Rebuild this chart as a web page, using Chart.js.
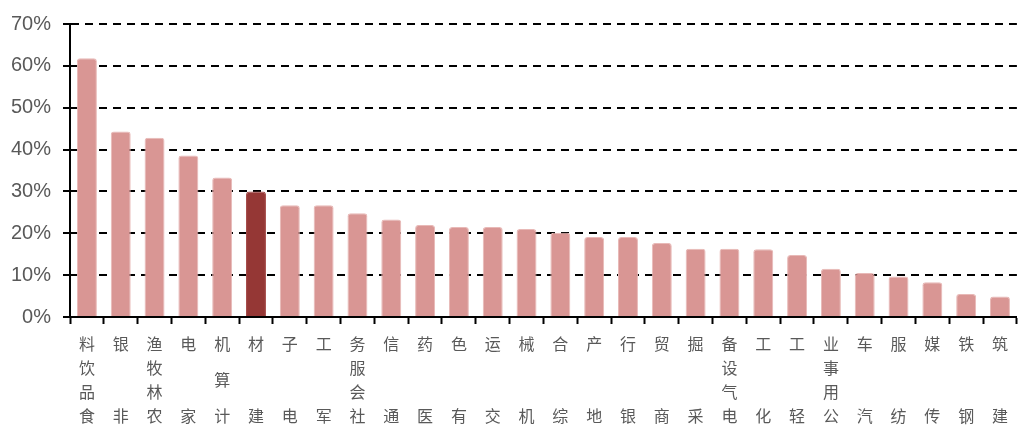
<!DOCTYPE html>
<html>
<head>
<meta charset="utf-8">
<script src="https://cdn.jsdelivr.net/npm/chart.js@4.4.1/dist/chart.umd.min.js"></script>
<style>
  html, body { margin: 0; padding: 0; background: #fff; }
  #c { display: block; }
</style>
</head>
<body>
<canvas id="c" width="1022" height="428"></canvas>
<script>
const categories = ['食品饮料','非银','农林牧渔','家电','计算机','建材','电子','军工','社会服务','通信','医药','有色','交运','机械','综合','地产','银行','商贸','采掘','电气设备','化工','轻工','公用事业','汽车','纺服','传媒','钢铁','建筑'];
const values = [61.8, 44.3, 42.8, 38.6, 33.3, 30.0, 26.7, 26.7, 24.8, 23.3, 22.0, 21.5, 21.5, 21.0, 20.1, 19.1, 19.1, 17.7, 16.3, 16.3, 16.2, 14.8, 11.5, 10.5, 9.7, 8.3, 5.5, 4.9];
const highlightCategory = '建材';
const yTickValues = [0, 10, 20, 30, 40, 50, 60, 70];

const baseColor = '#D99694';
const hiColor = '#953735';

function verticalLabel(text) {
  const chars = Array.from(text).reverse();
  const n = chars.length;
  const step = n >= 4 ? 2 : (n === 3 ? 3 : 6);
  const lines = new Array((n - 1) * step + 1).fill('');
  chars.forEach((ch, i) => { lines[i * step] = ch; });
  return lines;
}

new Chart(document.getElementById('c'), {
  type: 'bar',
  data: {
    labels: categories,
    datasets: [{
      data: values,
      backgroundColor: categories.map(c => c === highlightCategory ? hiColor : baseColor),
      borderColor: categories.map(c => c === highlightCategory ? '#A54A48' : '#E8B9B7'),
      borderWidth: 1,
      borderRadius: { topLeft: 3, topRight: 3, bottomLeft: 0, bottomRight: 0 },
      borderSkipped: 'bottom',
      barPercentage: 0.59,
      categoryPercentage: 1.0
    }]
  },
  options: {
    responsive: false,
    animation: false,
    devicePixelRatio: 1,
    layout: { padding: { top: 23, right: 1, left: 0, bottom: 0 } },
    plugins: { legend: { display: false }, tooltip: { enabled: false }, title: { display: false } },
    scales: {
      x: {
        offset: true,
        grid: {
          display: true,
          offset: true,
          drawOnChartArea: false,
          drawTicks: true,
          tickLength: 7,
          tickWidth: 2,
          tickColor: '#000'
        },
        border: { display: true, color: '#000', width: 2 },
        ticks: {
          autoSkip: false,
          maxRotation: 0,
          minRotation: 0,
          padding: 14,
          color: '#595959',
          font: { family: '"Noto Sans CJK SC", "Noto Sans", sans-serif', size: 16, lineHeight: 0.75 },
          callback: (value, index) => verticalLabel(categories[index])
        },
        afterFit: (scale) => { scale.height = 111; }
      },
      y: {
        min: 0,
        max: 70,
        afterBuildTicks: (scale) => { scale.ticks = yTickValues.map(v => ({ value: v })); },
        grid: {
          color: '#000',
          lineWidth: 2,
          drawTicks: true,
          tickLength: 7,
          tickWidth: 2,
          tickColor: '#000',
          tickBorderDash: []
        },
        border: { display: true, color: '#000', width: 2, dash: [8, 6] },
        ticks: {
          padding: 12,
          color: '#595959',
          font: { family: '"Liberation Sans", Arial, sans-serif', size: 20 },
          callback: (v) => v + '%'
        },
        afterFit: (scale) => { scale.width = 70; }
      }
    }
  }
});
</script>
</body>
</html>
